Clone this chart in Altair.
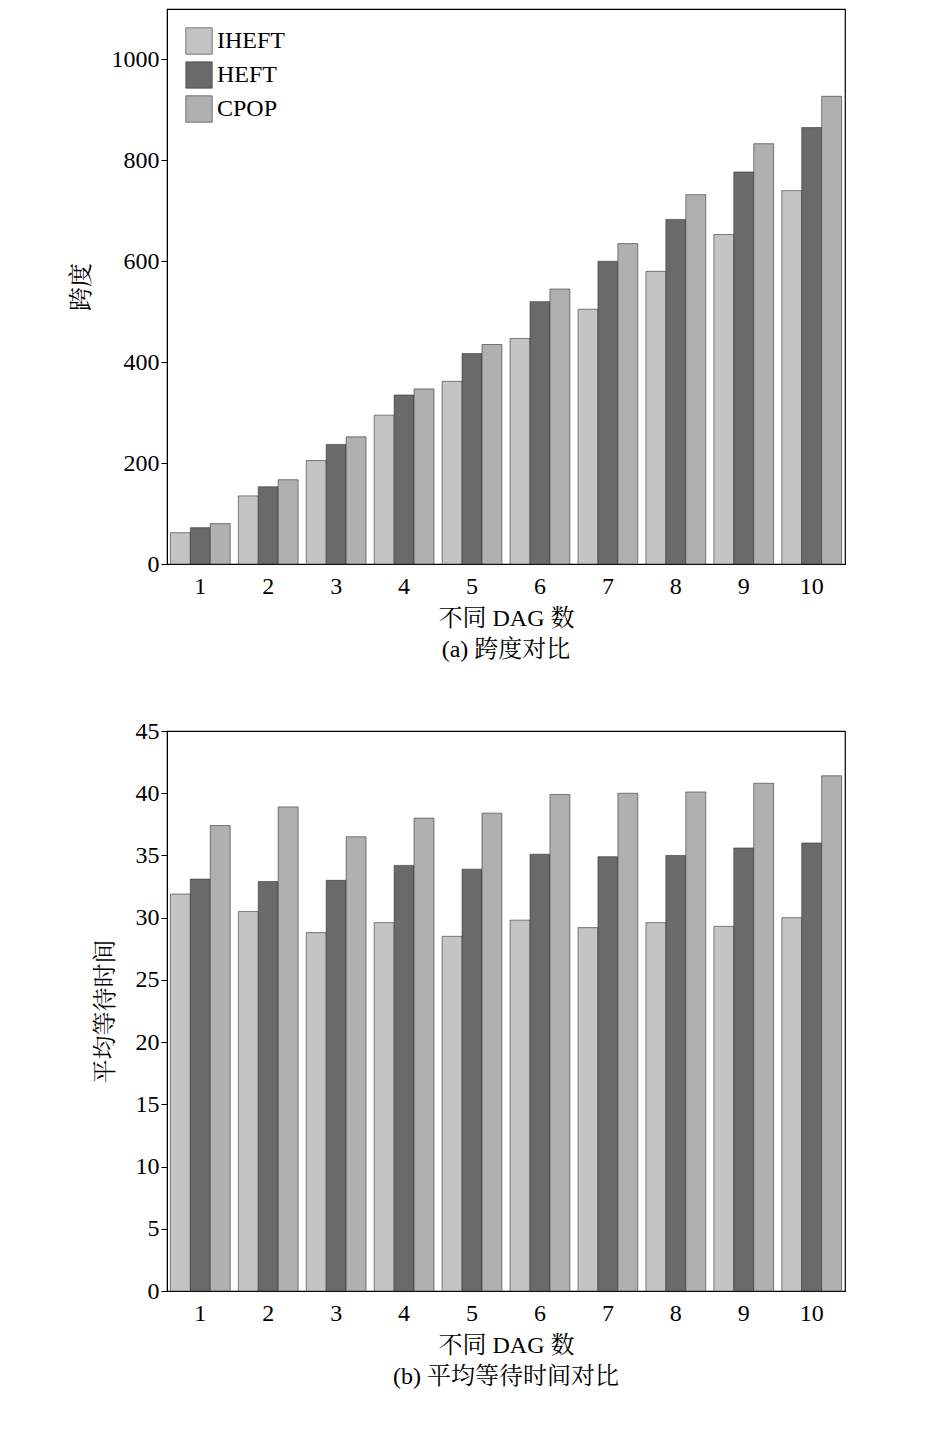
import altair as alt
import pandas as pd

dags = list(range(1, 11))
algos = ["IHEFT", "HEFT", "CPOP"]
span_iheft = [62, 135, 205, 295, 362, 447, 505, 580, 653, 740]
span_heft = [72, 153, 237, 335, 417, 520, 600, 683, 777, 865]
span_cpop = [80, 167, 252, 347, 435, 545, 635, 732, 833, 927]
wait_iheft = [31.9, 30.5, 28.8, 29.6, 28.5, 29.8, 29.2, 29.6, 29.3, 30.0]
wait_heft = [33.1, 32.9, 33.0, 34.2, 33.9, 35.1, 34.9, 35.0, 35.6, 36.0]
wait_cpop = [37.4, 38.9, 36.5, 38.0, 38.4, 39.9, 40.0, 40.1, 40.8, 41.4]

FONT = "Liberation Serif, Noto Serif CJK SC, Noto Sans CJK SC"


def frame(a, b, c):
    rows = []
    for name, vals in zip(algos, [a, b, c]):
        for d, v in zip(dags, vals):
            rows.append({"dag": d, "algo": name, "v": v})
    return pd.DataFrame(rows)


color = alt.Color("algo:N", sort=algos,
                  scale=alt.Scale(domain=algos, range=["#c4c4c4", "#6a6a6a", "#b0b0b0"]))


def panel(df, ytitle, ymax, step, caption, legend, h):
    return alt.Chart(df).mark_bar(stroke="#333", strokeWidth=0.6).encode(
        x=alt.X("dag:O", title="不同 DAG 数", scale=alt.Scale(paddingInner=0.12, paddingOuter=0.05),
                axis=alt.Axis(labelAngle=0, ticks=False, labelPadding=10, titlePadding=8)),
        xOffset=alt.XOffset("algo:N", sort=algos),
        y=alt.Y("v:Q", title=ytitle, scale=alt.Scale(domain=[0, ymax], nice=False),
                axis=alt.Axis(values=list(range(0, int(ymax) + 1, step)), grid=False, tickSize=6,
                              format="d", titlePadding=18)),
        color=color.legend(legend),
    ).properties(width=678, height=h,
                 title=alt.TitleParams(caption, orient="bottom", font=FONT, fontSize=24,
                                       fontWeight="normal", offset=8))


leg_a = alt.Legend(title=None, orient="none", direction="vertical", legendX=18, legendY=18,
                   symbolType="square", symbolSize=700, labelFontSize=24, labelFont=FONT, rowPadding=4,
                   symbolStrokeColor="#333", symbolStrokeWidth=0.6)
leg_b = alt.Legend(title=None, orient="none", direction="horizontal", legendX=80, legendY=12,
                   symbolType="square", symbolSize=700, labelFontSize=24, labelFont=FONT,
                   columnPadding=45, symbolStrokeColor="#333", symbolStrokeWidth=0.6)

top = panel(frame(span_iheft, span_heft, span_cpop), "跨度", 1100, 200, "(a) 跨度对比", leg_a, 555)
bot = panel(frame(wait_iheft, wait_heft, wait_cpop), "平均等待时间", 45, 5, "(b) 平均等待时间对比", leg_b, 560)

chart = alt.vconcat(top, bot, spacing=55).configure_view(stroke="#000", strokeWidth=1.2).configure_axis(
    labelFont=FONT, titleFont=FONT, labelFontSize=24, titleFontSize=24, titleFontWeight="normal",
    labelColor="#000", titleColor="#000", domainColor="#000", tickColor="#000"
).properties(padding={"left": 60, "top": 0, "right": 5, "bottom": 5})

chart.save("out.html", embed_options={"renderer": "svg", "actions": False})
